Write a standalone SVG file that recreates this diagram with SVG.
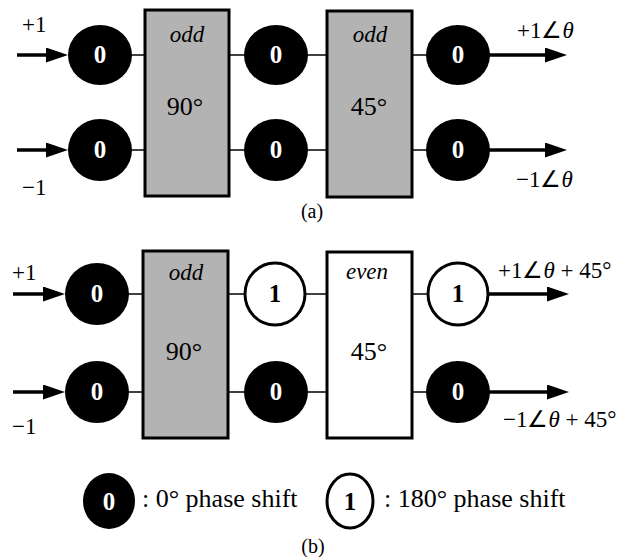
<svg xmlns="http://www.w3.org/2000/svg" width="626" height="557" viewBox="0 0 626 557">
<defs>
<style>
.t{font-family:"Liberation Serif","Times New Roman",serif;fill:#000}
.lbl{font-size:23px}
.cap{font-size:20px}
.box{stroke:#000;stroke-width:3}
.odd{fill:#b3b3b3}
.even{fill:#fff}
.blk{fill:#000}
.wht{fill:#fff;stroke:#000;stroke-width:3}
.n0{font-family:"Liberation Serif","Times New Roman",serif;font-weight:bold;font-size:25px;fill:#fff;text-anchor:middle}
.n1{font-family:"Liberation Serif","Times New Roman",serif;font-weight:bold;font-size:25px;fill:#000;text-anchor:middle}
.bi{font-size:23px;font-style:italic;text-anchor:middle}
.bd{font-size:26px;text-anchor:middle}
.thin{stroke:#000;stroke-width:1.5;fill:none}
.arr{stroke:#000;stroke-width:3.5;fill:none;marker-end:url(#ah)}
.leg{font-size:26px}
</style>
<marker id="ah" markerUnits="userSpaceOnUse" markerWidth="22" markerHeight="15" refX="5" refY="7.5" orient="auto">
<path d="M0,0 L22,7.5 L0,15 z" fill="#000"/>
</marker>
</defs>
<rect width="626" height="557" fill="#fff"/>

<g id="connectors">
<line class="arr" x1="17" y1="55" x2="51" y2="55"/>
<line class="arr" x1="17" y1="150" x2="51" y2="150"/>
<line class="thin" x1="130" y1="55" x2="145" y2="55"/>
<line class="thin" x1="229" y1="55" x2="246" y2="55"/>
<line class="thin" x1="306" y1="55" x2="327" y2="55"/>
<line class="thin" x1="412" y1="55" x2="428" y2="55"/>
<line class="thin" x1="130" y1="150" x2="145" y2="150"/>
<line class="thin" x1="229" y1="150" x2="246" y2="150"/>
<line class="thin" x1="306" y1="150" x2="327" y2="150"/>
<line class="thin" x1="412" y1="150" x2="428" y2="150"/>
<line class="arr" x1="480" y1="55" x2="550" y2="55"/>
<line class="arr" x1="480" y1="150" x2="550" y2="150"/>
<line class="arr" x1="13" y1="294" x2="48" y2="294"/>
<line class="arr" x1="13" y1="392" x2="48" y2="392"/>
<line class="thin" x1="127" y1="294" x2="143" y2="294"/>
<line class="thin" x1="228" y1="294" x2="244" y2="294"/>
<line class="thin" x1="304" y1="294" x2="327" y2="294"/>
<line class="thin" x1="412" y1="294" x2="428" y2="294"/>
<line class="thin" x1="127" y1="392" x2="143" y2="392"/>
<line class="thin" x1="228" y1="392" x2="246" y2="392"/>
<line class="thin" x1="306" y1="392" x2="327" y2="392"/>
<line class="thin" x1="412" y1="392" x2="428" y2="392"/>
<line class="arr" x1="488" y1="294" x2="552" y2="294"/>
<line class="arr" x1="488" y1="392" x2="552" y2="392"/>
</g>

<g id="a-in-top"><ellipse class="blk" cx="100" cy="55" rx="32" ry="30"/><text class="n0" x="100" y="63">0</text></g>
<g id="a-in-bot"><ellipse class="blk" cx="100" cy="150" rx="32" ry="31"/><text class="n0" x="100" y="158">0</text></g>
<g id="a-box1"><rect class="box odd" x="145" y="10" width="84" height="186"/><text class="t bi" x="187" y="42">odd</text><text class="t bd" x="185" y="115">90°</text></g>
<g id="a-mid-top"><ellipse class="blk" cx="276" cy="55" rx="32" ry="30"/><text class="n0" x="276" y="63">0</text></g>
<g id="a-mid-bot"><ellipse class="blk" cx="276" cy="150" rx="32" ry="31"/><text class="n0" x="276" y="158">0</text></g>
<g id="a-box2"><rect class="box odd" x="327" y="11" width="85" height="186"/><text class="t bi" x="370" y="42">odd</text><text class="t bd" x="369" y="115">45°</text></g>
<g id="a-out-top"><ellipse class="blk" cx="458" cy="55" rx="32" ry="30"/><text class="n0" x="458" y="63">0</text></g>
<g id="a-out-bot"><ellipse class="blk" cx="458" cy="150" rx="32" ry="31"/><text class="n0" x="458" y="158">0</text></g>

<g id="a-labels">
<text class="t lbl" x="22" y="32">+1</text>
<text class="t lbl" x="22" y="195">−1</text>
<text class="t lbl" x="517" y="38">+1∠<tspan font-style="italic">θ</tspan></text>
<text class="t lbl" x="516" y="187">−1∠<tspan font-style="italic">θ</tspan></text>
<text class="t cap" x="312" y="218" text-anchor="middle">(a)</text>
</g>

<g id="b-in-top"><ellipse class="blk" cx="97" cy="294" rx="32" ry="31"/><text class="n0" x="97" y="302">0</text></g>
<g id="b-in-bot"><ellipse class="blk" cx="97" cy="392" rx="32" ry="31"/><text class="n0" x="97" y="400">0</text></g>
<g id="b-box1"><rect class="box odd" x="143" y="251" width="85" height="187"/><text class="t bi" x="186" y="280">odd</text><text class="t bd" x="184" y="360">90°</text></g>
<g id="b-mid-top"><ellipse class="wht" cx="275" cy="294" rx="30" ry="31"/><text class="n1" x="275" y="302">1</text></g>
<g id="b-mid-bot"><ellipse class="blk" cx="276" cy="392" rx="32" ry="31"/><text class="n0" x="276" y="400">0</text></g>
<g id="b-box2"><rect class="box even" x="327" y="252" width="85" height="186"/><text class="t bi" x="367" y="279">even</text><text class="t bd" x="369" y="360">45°</text></g>
<g id="b-out-top"><ellipse class="wht" cx="458" cy="294" rx="30" ry="31"/><text class="n1" x="458" y="302">1</text></g>
<g id="b-out-bot"><ellipse class="blk" cx="458" cy="392" rx="32" ry="31"/><text class="n0" x="458" y="400">0</text></g>

<g id="b-labels">
<text class="t lbl" x="12" y="280">+1</text>
<text class="t lbl" x="12" y="434">−1</text>
<text class="t lbl" x="498" y="278">+1∠<tspan font-style="italic">θ</tspan> + 45°</text>
<text class="t lbl" x="503" y="427">−1∠<tspan font-style="italic">θ</tspan> + 45°</text>
</g>

<g id="legend">
<g id="leg-0"><ellipse class="blk" cx="109" cy="501" rx="26" ry="28"/><text class="n0" x="109" y="510" font-size="27">0</text></g>
<text class="t leg" x="142" y="507">: 0° phase shift</text>
<g id="leg-1"><ellipse class="wht" cx="350" cy="501" rx="23" ry="27"/><text class="n1" x="350" y="510" font-size="27">1</text></g>
<text class="t leg" x="384" y="507">: 180° phase shift</text>
</g>
<text class="t cap" x="313" y="553" text-anchor="middle">(b)</text>
</svg>
